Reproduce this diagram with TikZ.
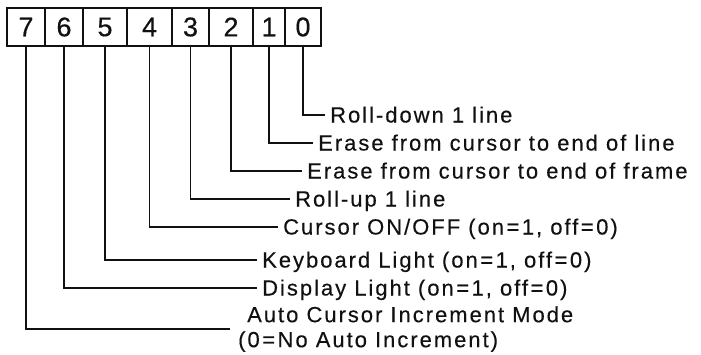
\documentclass[tikz,border=0pt]{standalone}
\usepackage{fontspec}
\usetikzlibrary{positioning}
\newfontfamily\labelfont{Liberation Sans}[LetterSpace=9,FakeBold=0.3]
\newfontfamily\digitfont{Liberation Sans}[FakeBold=0.4]
\definecolor{inkblack}{HTML}{111111}
\newcommand{\eqsign}{\kern2.5pt=\kern2.5pt}
\tikzset{
  bitbox/.style={
    rectangle, draw=inkblack, line width=1.6pt, inner sep=0pt,
    minimum height=38pt, font=\digitfont\fontsize{27}{27}\selectfont, text=inkblack
  },
  bitlabel/.style={
    anchor=west, inner xsep=5pt, inner ysep=0pt, text height=15pt, text depth=0pt,
    font=\labelfont\fontsize{22}{25}\selectfont, text=inkblack
  },
  lead/.style={line width=1.6pt, draw=inkblack}
}

\begin{document}
\begin{tikzpicture}[x=1pt,y=-1pt]
\useasboundingbox (0,0) rectangle (701,354);
% register bits
\node[bitbox, minimum width=38pt] (b7) at (26,27) {7};
\node[bitbox, minimum width=38pt] (b6) at (64,27) {6};
\node[bitbox, minimum width=44pt] (b5) at (105,27) {5};
\node[bitbox, minimum width=45pt] (b4) at (149.5,27) {4};
\node[bitbox, minimum width=37pt] (b3) at (190.5,27) {3};
\node[bitbox, minimum width=44pt] (b2) at (231,27) {2};
\node[bitbox, minimum width=32pt] (b1) at (269,27) {1};
\node[bitbox, minimum width=36pt] (b0) at (303,27) {0};
% meanings
\node[bitlabel] (l0) at (325,115) {Roll-down 1 line};
\node[bitlabel] (l1) at (313,143) {Erase from cursor to end of line};
\node[bitlabel] (l2) at (302,171) {Erase from cursor to end of frame};
\node[bitlabel] (l3) at (290,199) {Roll-up 1 line};
\node[bitlabel] (l4) at (278,227) {Cursor ON/OFF (on\eqsign 1, off\eqsign 0)};
\node[bitlabel] (l5) at (257,260) {Keyboard Light (on\eqsign 1, off\eqsign 0)};
\node[bitlabel] (l6) at (257,288) {Display Light (on\eqsign 1, off\eqsign 0)};
\node[bitlabel, text height=, text depth=, align=left] (l7) at (242,329)
  {Auto Cursor Increment Mode\\\hspace*{-9pt}(0\eqsign No Auto Increment)};
\draw[lead] (b0.south) |- (l0.west);
\draw[lead] (b1.south) |- (l1.west);
\draw[lead] (b2.south) |- (l2.west);
\draw[lead] (b3.south) |- (l3.west);
\draw[lead] (b4.south) |- (l4.west);
\draw[lead] (b5.south) |- (l5.west);
\draw[lead] (b6.south) |- (l6.west);
\draw[lead, shorten >=12pt] (b7.south) |- (l7.west);
\end{tikzpicture}
\end{document}
